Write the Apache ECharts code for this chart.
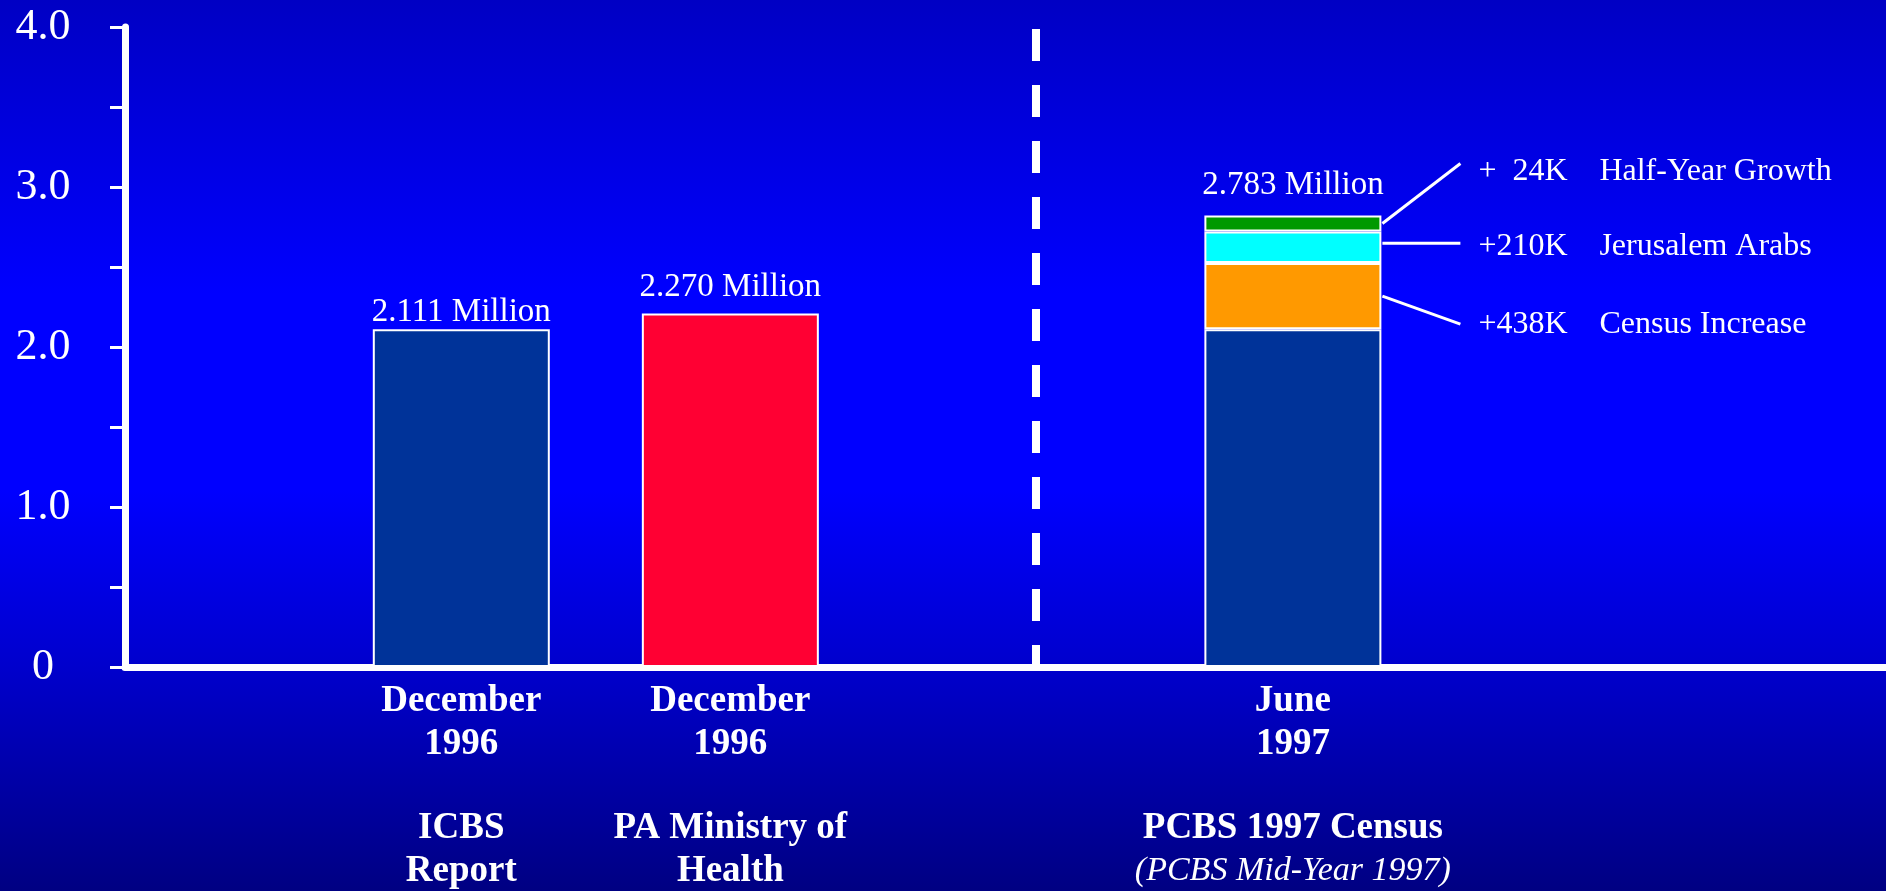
<!DOCTYPE html>
<html>
<head>
<meta charset="utf-8">
<script src="https://cdn.jsdelivr.net/npm/echarts@6/dist/echarts.min.js"></script>
<style>
  html, body { margin: 0; padding: 0; }
  #chart {
    width: 1886px;
    height: 891px;
    background: linear-gradient(to bottom, #0000c4 0%, #0000ff 33%, #0000ff 55%, #0000cc 75%, #000082 100%);
  }
</style>
</head>
<body>
<div id="chart"></div>
<script>
// 数据
const periods = ['December\n1996', 'December\n1996', 'June\n1997']
const sources = ['ICBS\nReport', 'PA Ministry of\nHealth', 'PCBS 1997 Census']
const sourceNotes = ['', '', '(PCBS Mid-Year 1997)']
const baseValues = [2.111, '-', 2.111]      // navy bars
const paValues = ['-', 2.21, '-']           // red bar
const censusIncrease = ['-', '-', 0.414]
const jerusalemArabs = ['-', '-', 0.197]
const halfYearGrowth = ['-', '-', 0.10]
const totalLabels = ['2.111 Million', '2.270 Million', '2.783 Million']
const addAmounts = ['+438K', '+210K', '+  24K']
const addNames = ['Census Increase', 'Jerusalem Arabs', 'Half-Year Growth']
const yTicks = [0, 1, 2, 3, 4]

// 布局: the x axis is split into narrow slots so the uneven spacing can be kept
const SLOT_COUNT = 144
const barSlots = [27, 49, 95]
const dividerSlot = 74
const BAR_W = 177
const serif = "'Liberation Serif', 'Times New Roman', serif"
// label offsets (dy) and leader line end offsets for the three added segments
const noteDy = [28, -1, -52]
const leaderEndDy = [28, -4, -60]

function spread(values, mapItem) {
  const out = new Array(SLOT_COUNT).fill('-')
  values.forEach(function(v, i) {
    out[barSlots[i]] = mapItem ? mapItem(v, i) : v
  })
  return out
}

const categories = new Array(SLOT_COUNT).fill('')
barSlots.forEach(function(s, i) {
  let lines = periods[i].split('\n').map(t => '{b|' + t + '}')
  lines.push('{s| }')
  lines = lines.concat(sources[i].split('\n').map(t => '{b|' + t + '}'))
  if (sourceNotes[i]) lines.push('{i|' + sourceNotes[i] + '}')
  categories[s] = lines.join('\n')
})

const topLabel = function(text, dist) {
  return { show: true, position: 'top', distance: dist, color: '#fff', fontFamily: serif, fontSize: 33, formatter: text }
}
const sideLabel = function(i) {
  return {
    show: true,
    position: 'right',
    distance: 97,
    offset: [0, noteDy[i]],
    formatter: '{n|' + addAmounts[i] + '}{t|' + addNames[i] + '}',
    rich: {
      n: { color: '#fff', fontFamily: serif, fontSize: 32, width: 121 },
      t: { color: '#fff', fontFamily: serif, fontSize: 32 }
    }
  }
}
const segStyle = function(color) {
  return { color: color, borderColor: '#fff', borderWidth: 2 }
}

const chart = echarts.init(document.getElementById('chart'))
const total = baseValues[2] + censusIncrease[2] + jerusalemArabs[2] + halfYearGrowth[2]

chart.setOption({
  backgroundColor: 'transparent',
  animation: false,
  grid: { left: 125, right: 0, top: 27, bottom: 224, containLabel: false, outerBoundsMode: 'none' },
  xAxis: {
    type: 'category',
    data: categories,
    axisLine: { lineStyle: { color: '#fff', width: 7 } },
    axisTick: { show: false },
    axisLabel: {
      interval: 0,
      margin: 13,
      lineHeight: 43,
      rich: {
        b: { color: '#fff', fontFamily: serif, fontWeight: 'bold', fontSize: 37, lineHeight: 43 },
        s: { fontSize: 20, lineHeight: 41 },
        i: { color: '#fff', fontFamily: serif, fontStyle: 'italic', fontSize: 34, lineHeight: 43 }
      }
    },
    splitLine: { show: false }
  },
  yAxis: {
    type: 'value',
    min: 0,
    max: 4,
    interval: 0.5,
    axisLine: { show: true, lineStyle: { color: '#fff', width: 7 } },
    axisTick: { show: true, length: 15, lineStyle: { color: '#fff', width: 3 } },
    splitLine: { show: false },
    axisLabel: {
      color: '#fff',
      fontFamily: serif,
      fontSize: 44,
      align: 'center',
      margin: 82,
      padding: [0, 0, 6, 0],
      formatter: function(v) {
        if (yTicks.indexOf(v) < 0) return ''
        return v === 0 ? '0' : v.toFixed(1)
      }
    }
  },
  series: [
    {
      name: 'base',
      type: 'bar',
      stack: 'all',
      barWidth: BAR_W,
      itemStyle: segStyle('#003399'),
      data: spread(baseValues, function(v, i) {
        if (v === '-') return '-'
        return i === 0 ? { value: v, label: topLabel(totalLabels[0], 0) } : v
      }),
      markLine: {
        silent: true,
        symbol: ['none', 'none'],
        label: { show: false },
        lineStyle: { color: '#fff', width: 8, type: [32, 24], dashOffset: 10 },
        data: [{ xAxis: dividerSlot }]
      }
    },
    {
      name: 'PA Ministry of Health',
      type: 'bar',
      stack: 'all',
      barWidth: BAR_W,
      itemStyle: segStyle('#ff0033'),
      data: spread(paValues, function(v) {
        return v === '-' ? '-' : { value: v, label: topLabel(totalLabels[1], 10) }
      })
    },
    {
      name: addNames[0],
      type: 'bar',
      stack: 'all',
      barWidth: BAR_W,
      itemStyle: segStyle('#ff9900'),
      data: spread(censusIncrease, function(v) {
        return v === '-' ? '-' : { value: v, label: sideLabel(0) }
      })
    },
    {
      name: addNames[1],
      type: 'bar',
      stack: 'all',
      barWidth: BAR_W,
      itemStyle: segStyle('#00ffff'),
      data: spread(jerusalemArabs, function(v) {
        return v === '-' ? '-' : { value: v, label: sideLabel(1) }
      })
    },
    {
      name: addNames[2],
      type: 'bar',
      stack: 'all',
      barWidth: BAR_W,
      itemStyle: segStyle('#009900'),
      data: spread(halfYearGrowth, function(v) {
        return v === '-' ? '-' : { value: v, label: sideLabel(2) }
      })
    },
    {
      name: 'total',
      type: 'scatter',
      symbolSize: 1,
      itemStyle: { color: 'rgba(0,0,0,0)', opacity: 1 },
      data: spread(['-', '-', total], function(v) {
        return v === '-' ? '-' : { value: v, label: topLabel(totalLabels[2], 13) }
      })
    }
  ]
})

// 引导线 from the stacked segments to their notes
const xc = chart.convertToPixel({ xAxisIndex: 0 }, barSlots[2])
const right = xc + BAR_W / 2 + 1
const yOf = v => chart.convertToPixel({ yAxisIndex: 0 }, v)
let cum = baseValues[2]
const segs = [censusIncrease[2], jerusalemArabs[2], halfYearGrowth[2]]
const lines = segs.map(function(v, i) {
  const mid = yOf(cum + v / 2)
  cum += v
  const y1 = i === 1 ? mid + leaderEndDy[i] : mid
  return {
    type: 'line',
    silent: true,
    shape: { x1: right, y1: y1, x2: right + 78, y2: mid + leaderEndDy[i] },
    style: { stroke: '#fff', lineWidth: 3 }
  }
})
chart.setOption({ graphic: lines })

window.addEventListener('resize', () => {
  chart.resize()
})
</script>
</body>
</html>
